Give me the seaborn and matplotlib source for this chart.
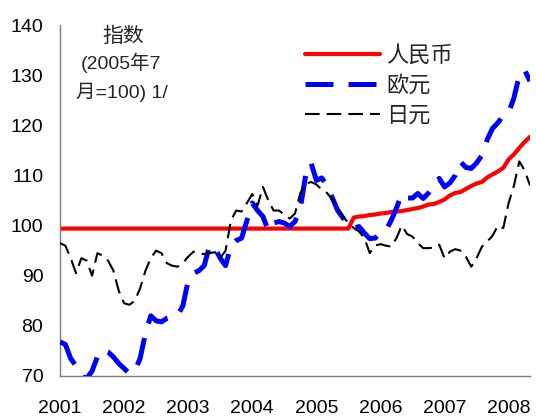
import numpy as np
import pandas as pd
import matplotlib
matplotlib.use("Agg")
import matplotlib.pyplot as plt
import seaborn as sns

# monthly data, Jan 2001 .. May 2008
start_year = 2001
rmb = [99.4] * 55 + [
    101.6, 101.8, 101.9, 102.1, 102.2, 102.4, 102.5, 102.7, 102.8, 102.9,
    103.1, 103.3, 103.5, 103.8, 104.2, 104.3, 104.7, 105.2, 106.0, 106.5,
    106.7, 107.3, 107.9, 108.4, 108.7, 109.6, 110.2, 110.8, 111.5, 113.2,
    114.2, 115.5, 116.7, 117.7]
euro = [
    76.8, 76.3, 73.5, 72.0, 70.0, 69.5, 71.0, 73.8, 75.2, 74.8,
    73.8, 72.5, 71.5, 70.5, 71.0, 73.5, 78.5, 82.0, 81.0, 80.8,
    81.5, 81.8, 82.0, 84.0, 89.0, 90.5, 91.0, 92.0, 96.0, 95.5,
    93.5, 92.0, 96.0, 97.0, 97.5, 101.0, 104.5, 103.0, 101.8, 99.0,
    100.5, 100.8, 100.5, 99.8, 100.8, 103.5, 110.0, 112.5, 109.0, 109.5,
    108.0, 105.5, 103.0, 101.5, 100.0, 99.5, 99.8, 98.5, 97.4, 97.5,
    98.5, 99.0, 101.0, 103.5, 106.3, 105.5, 105.5, 106.4, 105.4, 106.5,
    108.0, 109.4, 107.7, 108.5, 110.0, 112.7, 111.6, 111.4, 112.5, 114.0,
    117.2, 119.4, 120.5, 122.0, 122.5, 125.5, 130.0, 131.0, 128.8]
yen = [
    96.5, 96.0, 93.5, 90.5, 93.5, 93.0, 90.0, 94.5, 94.0, 93.0,
    91.0, 87.0, 84.5, 84.2, 85.0, 87.5, 91.0, 93.5, 95.0, 94.5,
    92.5, 92.0, 91.8, 92.5, 93.8, 94.8, 94.5, 94.3, 94.5, 94.7,
    93.5, 95.0, 101.0, 103.0, 102.8, 104.5, 106.3, 104.0, 107.7, 105.0,
    103.0, 103.0, 102.2, 101.4, 102.4, 106.5, 108.3, 108.7, 108.2, 107.2,
    106.5, 105.2, 103.6, 101.8, 100.5, 99.5, 98.8, 97.5, 94.5, 96.0,
    96.3, 96.0, 95.8, 97.5, 100.0, 98.3, 97.8, 96.5, 95.5, 95.5,
    95.6, 96.2, 93.5, 94.8, 95.3, 95.0, 93.8, 91.8, 93.5, 95.8,
    96.8, 98.0, 100.0, 99.5, 104.5, 108.0, 112.8, 111.0, 108.0]
series_names = ["人民币", "欧元", "日元"]
year_ticks = [2001, 2002, 2003, 2004, 2005, 2006, 2007, 2008]
y_ticks = [70, 80, 90, 100, 110, 120, 130, 140]
note_lines = ["指数", "(2005年7", "月=100) 1/"]

n = len(rmb)
t = start_year + np.arange(n) / 12.0
df = pd.DataFrame({"t": t, series_names[0]: rmb, series_names[1]: euro, series_names[2]: yen})

sns.set_style("white")
plt.rcParams["font.family"] = ["Liberation Sans", "Noto Sans CJK SC", "DejaVu Sans"]

W, H = 536, 416
fig = plt.figure(figsize=(W / 100, H / 100), dpi=100)
ax = fig.add_axes([60 / W, 1 - 376 / H, 470 / W, 351 / H])

sns.lineplot(data=df, x="t", y=series_names[0], ax=ax, color="#ff0000", linewidth=3.0,
             label=series_names[0], zorder=2)
sns.lineplot(data=df, x="t", y=series_names[1], ax=ax, color="#0000ff", linewidth=3.6,
             linestyle=(0, (5.6, 3.0)), label=series_names[1], zorder=3)
sns.lineplot(data=df, x="t", y=series_names[2], ax=ax, color="black", linewidth=1.5,
             linestyle=(0, (7.0, 3.4)), label=series_names[2], zorder=4)

ax.set_xlim(start_year, t[-1])
ax.set_ylim(70, 140)
ax.set_xticks(year_ticks)
ax.set_xticklabels([str(y) for y in year_ticks])
ax.set_yticks(y_ticks)
ax.set_xlabel("")
ax.set_ylabel("")
for s in ["top", "right"]:
    ax.spines[s].set_visible(False)
for s in ["left", "bottom"]:
    ax.spines[s].set_color("#7f7f7f")
    ax.spines[s].set_linewidth(1.0)
ax.tick_params(axis="both", direction="in", length=4, width=1, color="#7f7f7f",
               labelsize=14, labelcolor="black")
ax.tick_params(axis="x", pad=17)
ax.tick_params(axis="y", pad=12)

# note text (three lines)
fig.text(123 / W, 1 - 36 / H, note_lines[0], ha="center", va="center", fontsize=15)
fig.text(121 / W, 1 - 63 / H, note_lines[1], ha="center", va="center", fontsize=14)
fig.text(121.5 / W, 1 - 92 / H, note_lines[2], ha="center", va="center", fontsize=14)

leg = ax.legend(loc="upper left", bbox_to_anchor=(0.521, 0.940), frameon=False,
                fontsize=16, handlelength=3.4, handletextpad=0.27, labelspacing=0.4,
                borderpad=0, borderaxespad=0)

fig.savefig("out.png", dpi=100)
